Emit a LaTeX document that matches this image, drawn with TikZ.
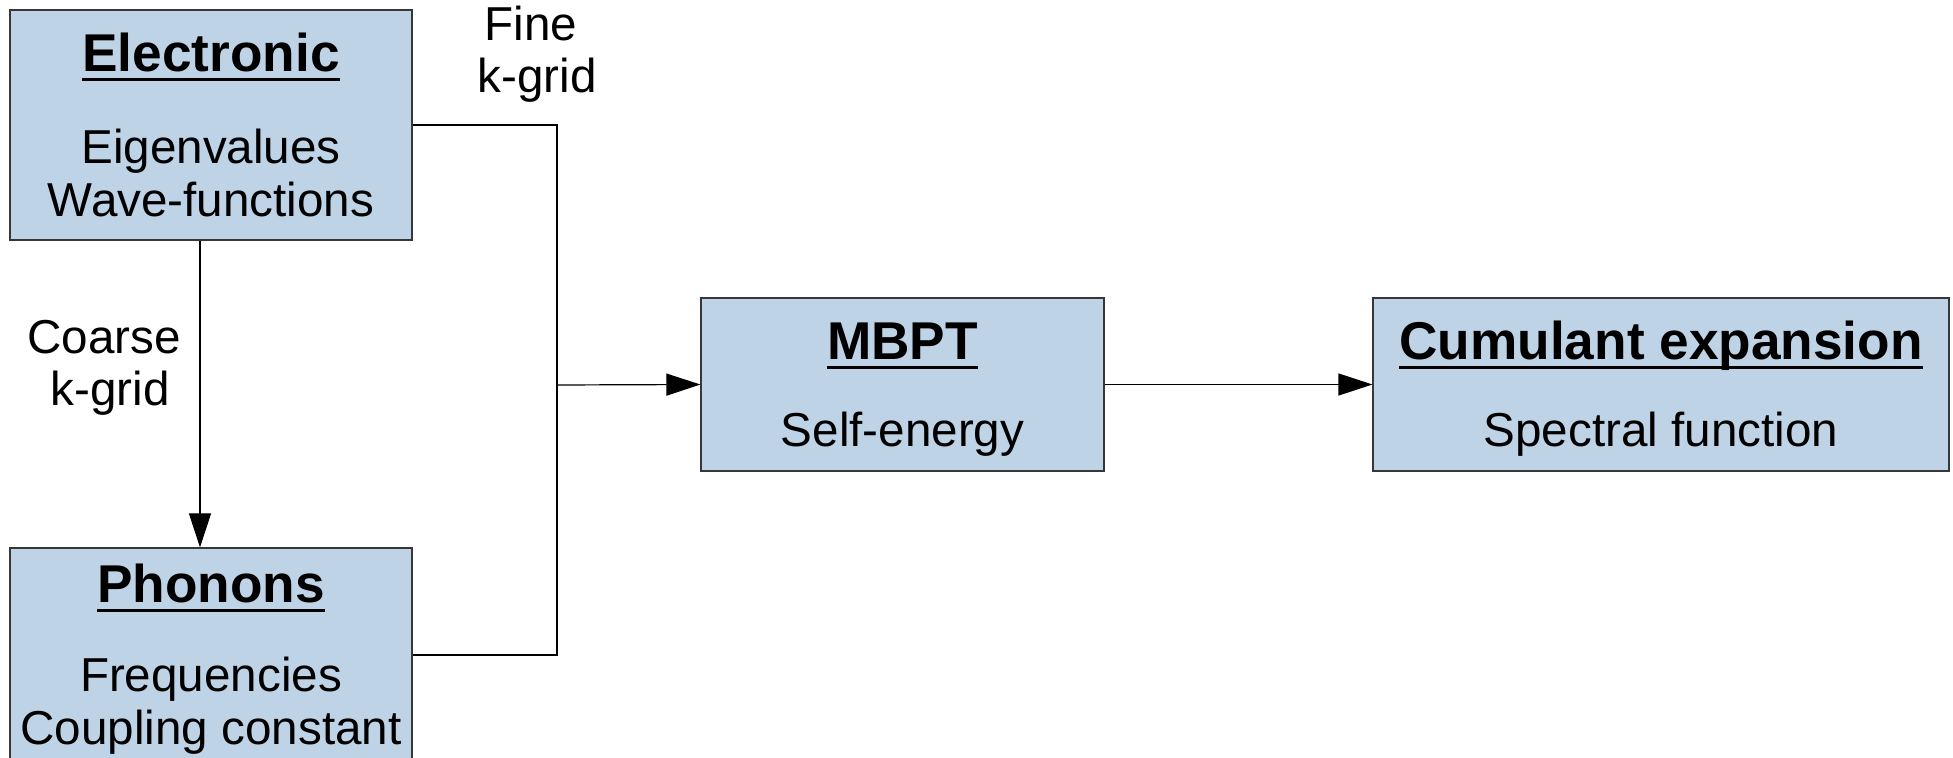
\documentclass[tikz,border=0pt]{standalone}
\usepackage{fontspec}
\setmainfont{Liberation Sans}
\usetikzlibrary{arrows.meta}
\definecolor{boxfill}{RGB}{191,211,231}
\definecolor{boxline}{RGB}{55,55,55}
\newcommand{\myul}[1]{\setbox0\hbox{#1}\rlap{\rule[-0.16em]{\wd0}{0.055em}}\box0}
\tikzset{
  box/.style={draw=boxline, line width=0.6pt, fill=boxfill, rectangle, inner sep=0pt},
  ttl/.style={anchor=base, inner sep=0pt, font=\fontsize{26.6}{30}\selectfont\bfseries},
  txt/.style={anchor=base, inner sep=0pt, font=\fontsize{23.8}{26}\selectfont},
  conn/.style={draw=black, line width=0.6pt},
  arr/.style={conn, -{Triangle[length=17pt, width=11pt]}}
}
\begin{document}
\begin{tikzpicture}[x=0.5pt, y=-0.5pt]
\useasboundingbox (0,0) rectangle (1953,758);
% boxes
\node[box, minimum width=201pt, minimum height=115pt] (elec) at (211,125) {};
\node[box, minimum width=201pt, minimum height=107pt] (phon) at (211,655) {};
\node[box, minimum width=201.5pt, minimum height=86.5pt] (mbpt) at (902.5,384.5) {};
\node[box, minimum width=288pt, minimum height=86.5pt] (cumu) at (1661,384.5) {};
% texts
\node[ttl] (elecT) at (211,72) {\myul{Electronic}};
\node[txt] (elecA) at (211,164) {Eigenvalues};
\node[txt] (elecB) at (211,217) {Wave-functions};
\node[ttl] (phonT) at (211,603) {\myul{Phonons}};
\node[txt] (phonA) at (211,691) {Frequencies};
\node[txt] (phonB) at (211,744) {Coupling constant};
\node[ttl] (mbptT) at (902.5,360) {\myul{MBPT}};
\node[txt] (mbptA) at (902.5,447) {Self-energy};
\node[ttl] (cumuT) at (1661,360) {\myul{Cumulant expansion}};
\node[txt] (cumuA) at (1661,447) {Spectral function};
\node[txt] (fine1) at (531,41) {Fine};
\node[txt] (fine2) at (537,93) {k-grid};
\node[txt] (coar1) at (104,354) {Coarse};
\node[txt] (coar2) at (110,406) {k-grid};
% connectors
\coordinate (j) at (557,385);
\draw[conn] (elec.east) -| (j);
\draw[conn] (phon.east) -| (j);
\draw[arr] (j) -- (mbpt.west);
\draw[arr] (mbpt.east) -- (cumu.west);
\draw[arr] ([xshift=-5.5pt]elec.south) -- ([xshift=-5.5pt]phon.north);
\end{tikzpicture}
\end{document}
